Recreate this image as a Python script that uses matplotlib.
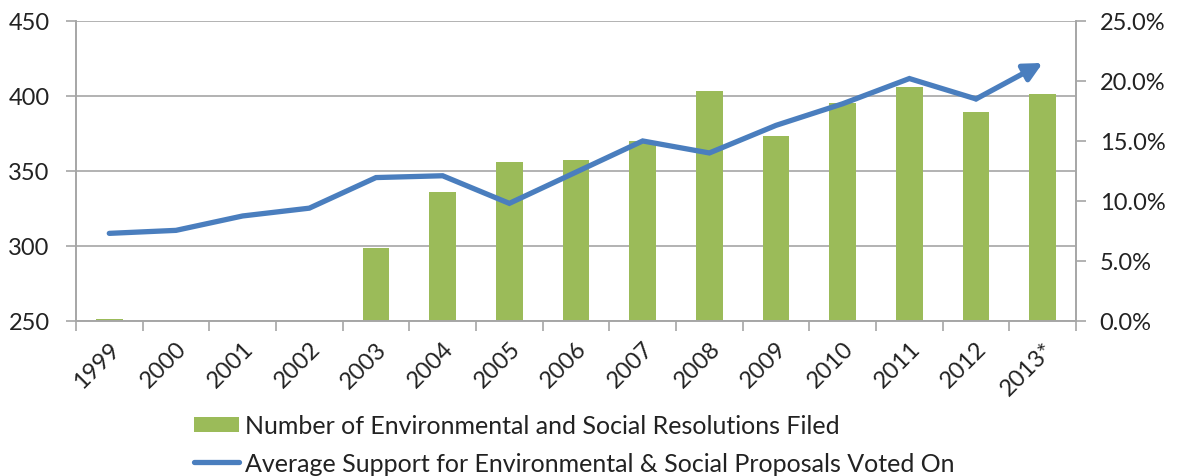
import numpy as np
import matplotlib
matplotlib.use("Agg")
import matplotlib.pyplot as plt
from matplotlib.ticker import FuncFormatter

plt.rcParams['font.family'] = ['Lato', 'DejaVu Sans']

years = ['1999', '2000', '2001', '2002', '2003', '2004', '2005', '2006',
         '2007', '2008', '2009', '2010', '2011', '2012', '2013*']
resolutions = [251, np.nan, np.nan, np.nan, 298.5, 336, 356, 357,
               370, 403, 373, 395, 406, 389, 401]
support = [7.3, 7.55, 8.75, 9.4, 11.95, 12.1, 9.8, 12.4,
           15.0, 14.0, 16.3, 18.1, 20.2, 18.5, 21.5]

bar_color = '#9BBB59'
line_color = '#4A7EBE'
grid_color = '#A6A6A6'

fig = plt.figure(figsize=(11.83, 4.77), dpi=100)
ax = fig.add_axes([0.0642, 0.325, 0.8454, 0.629])
ax2 = ax.twinx()

x = np.arange(len(years))
ax.bar(x, resolutions, width=0.4, color=bar_color, zorder=2,
       label='Number of Environmental and Social Resolutions Filed')
ax.set_ylim(250, 450)
ax.set_yticks([250, 300, 350, 400, 450])
ax.set_xlim(-0.5, len(years) - 0.5)
ax.yaxis.grid(True, color=grid_color, linewidth=1.2, zorder=0)
ax.set_axisbelow(True)

# line, with an arrow head on the last segment
ax2.plot(x[:-1], support[:-1], color=line_color, linewidth=3.8,
         solid_capstyle='round', solid_joinstyle='miter',
         label='Average Support for Environmental & Social Proposals Voted On')
ax2.annotate('', xy=(x[-1], support[-1]), xytext=(x[-2], support[-2]),
             arrowprops=dict(arrowstyle='-|>,head_length=1.1,head_width=0.55',
                             color=line_color, lw=3.8, shrinkA=0, shrinkB=0))
ax2.set_ylim(0, 25)
ax2.set_yticks([0, 5, 10, 15, 20, 25])
ax2.yaxis.set_major_formatter(FuncFormatter(lambda v, p: f'{v:.1f}%'))

for a in (ax, ax2):
    a.spines['top'].set_visible(False)
    for s in ('left', 'right', 'bottom'):
        a.spines[s].set_color(grid_color)
        a.spines[s].set_linewidth(1.2)

ax.tick_params(axis='y', length=7, width=1.2, color=grid_color,
               labelsize=17, labelcolor='#222222', pad=12)
ax2.tick_params(axis='y', length=7, width=1.2, color=grid_color,
                labelsize=17, labelcolor='#222222', pad=10)

ax.set_xticks(x)
ax.set_xticklabels(years, rotation=45, ha='right', rotation_mode='anchor')
ax.set_xticks(np.arange(-0.5, len(years)), minor=True)
ax.tick_params(axis='x', which='major', length=0, labelsize=17,
               labelcolor='#222222', pad=12)
ax.tick_params(axis='x', which='minor', length=7, width=1.2, color=grid_color)

h1, l1 = ax.get_legend_handles_labels()
h2, l2 = ax2.get_legend_handles_labels()
fig.legend(h1 + h2, l1 + l2, loc='upper left',
           bbox_to_anchor=(184 / 1183, 1 - 405 / 477), frameon=False,
           fontsize=18, handlelength=1.8, handleheight=0.55, handletextpad=0.25,
           labelspacing=0.58, labelcolor='#222222', borderaxespad=0)

fig.savefig('out.png', dpi=100)
